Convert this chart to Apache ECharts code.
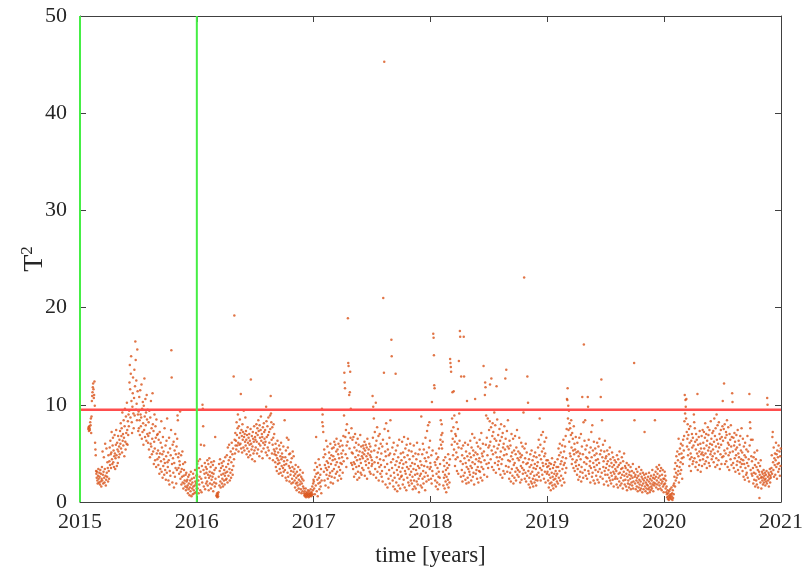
<!DOCTYPE html>
<html>
<head>
<meta charset="utf-8">
<script src="https://cdn.jsdelivr.net/npm/echarts/dist/echarts.min.js"></script>
<style>
  html, body { margin: 0; padding: 0; background: #ffffff; }
  #chart { width: 803px; height: 574px; }
</style>
</head>
<body>
<div id="chart"></div>
<script>
// Daily T^2 statistic, one row of samples per month (30 per month, 360 per year).
const years = [2015, 2016, 2017, 2018, 2019, 2020];

const t2015 = [
  null,null,null,null,null,null,null,null,null,null,null,null,null,null,null,null,null,null,null,null,null,null,null,null,null,7.5,7.7,7.3,7.8,7.6,
  7.4,8.2,7.9,8.6,7.1,8.8,10.4,10.9,11.3,11.8,12.2,11.6,10.7,11.0,12.4,9.9,6.1,5.4,4.8,3.2,2.9,2.5,3.1,2.2,1.9,2.7,3.4,2.4,2.0,3.0,
  2.6,1.8,3.3,2.1,2.9,1.6,2.4,3.6,2.2,5.2,2.8,1.9,3.1,4.6,2.5,2.0,3.4,6.0,2.7,1.7,2.3,5.5,3.0,2.6,4.1,3.5,2.1,4.8,3.2,2.4,
  4.2,5.6,3.8,6.3,4.9,3.5,5.1,7.2,4.4,3.9,5.8,6.6,4.1,5.3,3.6,4.7,6.9,5.0,3.4,4.5,5.9,7.4,4.8,3.7,6.1,5.4,4.0,6.8,5.2,4.6,
  5.7,6.4,4.9,7.3,6.0,8.1,5.5,6.8,7.6,5.1,9.2,6.3,7.0,5.8,8.4,6.6,4.7,7.8,9.6,6.2,5.4,8.8,7.1,6.0,10.2,7.4,5.9,8.3,6.9,9.0,
  7.8,9.4,12.3,14.1,11.6,8.7,13.2,15.0,10.4,8.2,7.1,9.8,11.2,12.8,9.1,7.6,10.7,13.6,8.9,11.9,16.5,14.6,9.5,12.5,10.1,8.4,15.7,11.4,9.0,7.3,
  9.3,7.6,10.8,8.4,6.9,11.5,9.0,7.8,8.7,12.1,6.5,9.6,7.2,10.3,8.1,5.9,9.9,7.4,12.7,8.8,6.7,10.6,7.9,9.2,6.3,11.0,8.5,7.0,9.5,6.1,
  6.8,8.2,5.4,9.4,7.1,4.6,8.7,6.0,10.4,5.7,7.6,4.9,6.5,11.2,8.0,5.2,7.3,3.9,6.2,9.0,5.5,4.3,7.8,6.6,3.6,8.5,5.0,6.9,4.4,7.0,
  5.3,3.8,6.4,4.6,2.9,7.2,5.0,3.4,6.1,4.2,8.3,3.1,5.6,4.9,2.5,6.7,3.7,5.2,4.4,2.8,7.6,4.0,3.3,5.8,2.3,4.7,6.3,3.0,8.6,4.1,
  3.6,5.1,2.2,4.3,6.6,1.8,3.2,5.5,2.7,4.8,7.4,15.6,12.8,3.9,2.0,5.9,4.5,3.0,6.2,1.5,4.0,5.3,2.6,7.0,3.5,4.9,1.9,5.7,3.3,6.5,
  8.9,8.4,4.6,3.5,5.0,2.9,4.2,3.8,9.3,2.4,3.1,4.8,1.8,3.4,2.6,5.2,2.0,3.9,1.4,2.7,3.3,1.9,2.2,4.1,1.6,2.8,1.2,3.0,2.1,1.5,
  2.3,1.7,0.9,2.6,1.3,1.9,2.8,0.7,1.5,2.2,1.1,3.1,1.8,0.6,2.4,1.4,2.0,0.8,2.9,1.6,1.2,2.5,0.9,1.7,3.3,2.1,1.0,1.9,2.7,1.4
];

const t2016 = [
  2.8,3.9,1.4,4.2,2.2,0.9,3.5,1.8,2.6,4.4,1.2,3.1,5.9,2.4,1.0,3.7,2.0,10.0,9.6,7.8,3.3,1.6,5.8,2.9,4.0,1.3,2.5,3.6,1.9,3.0,
  3.4,2.1,4.3,1.7,2.8,3.9,1.2,2.5,4.5,3.1,1.9,2.7,3.6,1.4,4.1,2.3,3.0,1.8,2.6,3.8,1.1,2.9,4.2,2.0,3.3,1.6,6.7,2.4,3.5,1.9,
  0.7,0.6,0.9,0.5,0.8,0.6,1.0,2.6,3.9,1.7,3.2,4.4,2.1,1.5,3.5,2.8,4.0,1.9,2.4,3.7,1.6,2.9,4.2,2.2,3.3,1.8,2.7,4.6,3.0,2.3,
  3.6,2.4,4.8,3.1,2.0,5.6,3.9,2.7,4.3,5.9,3.4,2.2,4.6,3.0,5.2,2.5,4.1,6.1,3.3,4.9,2.8,5.5,3.7,12.9,4.4,19.2,6.4,5.0,7.1,5.8,
  6.3,5.4,8.2,6.9,5.8,7.6,9.0,6.1,5.2,7.8,6.6,5.9,8.5,7.1,6.0,11.1,5.5,7.4,6.8,5.1,8.0,6.4,7.2,5.6,9.4,6.7,5.3,7.0,6.2,8.7,
  5.8,7.3,6.4,4.9,6.9,5.5,7.7,6.1,4.6,6.6,5.2,7.0,5.9,6.3,4.8,7.5,12.6,6.0,5.4,6.8,4.4,5.7,7.2,6.5,5.0,6.2,7.8,5.3,4.2,6.7,
  6.4,5.6,7.1,8.0,6.2,5.0,7.6,6.9,5.4,8.4,7.3,6.0,4.7,7.9,6.6,5.8,7.4,8.8,6.3,5.2,7.0,6.7,4.5,7.7,6.1,5.5,8.1,7.2,6.5,5.9,
  7.4,6.2,5.1,9.8,8.3,6.7,4.8,7.8,5.6,6.9,8.7,5.3,7.2,6.1,4.5,8.9,7.5,10.9,9.1,8.2,6.4,5.0,7.7,5.9,4.3,6.6,8.0,5.4,7.0,4.9,
  5.2,4.1,6.0,3.6,4.8,5.5,3.2,4.5,6.3,3.9,5.1,4.3,2.9,5.8,4.0,3.4,5.4,4.7,3.0,6.1,4.4,3.7,5.0,2.7,4.6,3.5,5.7,3.1,4.2,3.8,
  8.4,3.3,4.6,2.5,5.3,3.9,2.2,6.6,4.3,3.0,5.6,2.6,6.4,3.7,4.9,2.1,3.5,5.0,2.8,4.1,3.2,1.9,4.5,2.4,3.6,5.2,2.0,3.1,4.7,2.7,
  3.4,2.2,1.5,2.9,3.8,1.9,2.5,1.2,3.1,2.0,1.7,2.7,3.6,1.4,2.3,1.0,2.8,1.8,3.3,2.1,1.3,2.6,0.9,1.9,2.4,1.1,3.0,1.6,2.2,1.4,
  0.9,0.7,1.1,0.6,0.8,1.4,0.5,0.9,0.7,1.0,0.6,0.8,1.2,0.7,0.5,0.9,1.1,0.6,0.8,0.7,1.3,0.9,0.6,1.0,0.7,1.6,0.8,1.2,1.9,2.3
];

const t2017 = [
  2.1,1.4,3.3,0.8,2.6,4.0,1.7,6.7,2.9,1.1,3.6,2.3,0.6,3.0,1.9,4.4,2.5,1.3,3.8,2.0,2.8,1.6,3.4,0.9,2.2,9.6,8.2,9.0,7.8,7.2,
  4.6,3.1,5.4,2.2,3.8,4.9,1.7,3.5,6.3,2.8,4.2,3.3,5.7,2.4,4.0,1.5,3.6,5.1,2.7,4.5,3.0,6.0,2.0,3.9,4.8,2.6,5.5,3.2,4.3,1.9,
  4.7,5.6,3.4,6.2,2.5,4.4,5.9,3.8,2.9,5.2,6.5,4.1,3.1,5.4,2.2,4.9,6.0,3.6,4.5,2.7,5.7,3.3,4.0,6.3,2.4,5.0,3.9,4.6,5.8,3.0,
  5.3,6.8,4.2,8.9,13.3,12.3,11.7,6.7,4.9,7.4,3.6,5.8,8.0,4.5,6.2,18.9,14.3,14.0,7.1,11.0,5.5,11.3,13.4,6.6,9.6,4.0,7.6,5.1,3.8,6.4,
  5.0,3.4,6.7,4.1,2.6,5.6,3.9,7.0,4.6,2.9,6.1,3.6,5.3,4.3,2.3,6.5,3.1,4.8,5.9,3.7,2.5,5.2,4.4,6.9,3.0,4.0,5.7,2.8,4.7,3.5,
  5.1,4.5,5.8,3.3,5.5,4.9,6.2,2.7,5.3,4.2,5.9,3.8,4.7,5.6,2.4,6.5,4.4,5.0,3.5,5.4,4.0,6.0,3.1,4.8,5.7,2.9,4.6,5.2,3.7,4.3,
  3.9,10.9,6.6,9.8,2.8,8.6,5.3,4.1,7.2,3.4,5.8,10.2,2.5,6.3,4.6,7.7,3.1,5.1,4.0,6.8,2.2,5.5,3.6,7.0,4.4,2.9,6.0,3.8,5.0,2.6,
  3.2,5.7,2.1,6.4,21.0,4.3,13.3,45.3,7.5,3.6,5.2,1.8,4.7,8.1,2.9,6.0,3.9,1.5,5.4,7.3,2.4,4.8,3.3,6.6,1.9,5.0,8.4,2.7,4.1,16.7,
  15.0,3.5,5.6,2.2,4.4,1.6,6.1,3.0,4.9,2.5,1.3,3.8,13.2,5.3,2.0,4.2,3.3,1.1,5.8,2.8,4.6,1.7,3.6,6.4,2.4,4.0,1.4,3.1,5.0,2.6,
  4.3,2.7,6.2,3.5,1.8,5.1,3.9,2.3,6.7,4.6,1.5,3.2,5.5,2.9,4.1,1.2,5.9,3.6,2.5,4.8,6.5,2.0,3.4,5.3,1.7,4.4,2.8,6.0,3.7,2.2,
  3.1,5.2,1.9,4.0,2.6,1.3,4.7,3.4,5.8,2.2,1.6,3.9,2.8,5.0,1.4,3.3,4.4,2.1,6.1,2.9,1.8,3.7,4.9,2.4,1.0,3.5,5.4,2.7,4.2,1.7,
  2.9,8.8,3.8,1.5,4.9,2.4,6.0,3.2,1.9,5.4,3.7,2.6,4.5,1.2,6.6,3.0,4.2,2.1,5.1,7.3,3.6,2.7,7.9,4.6,2.3,5.6,8.2,3.4,6.3,4.0
];

const t2018 = [
  3.6,2.4,4.8,1.9,10.3,3.2,5.3,2.7,17.3,16.9,15.1,12.0,11.7,4.1,2.2,3.8,1.6,5.0,2.9,4.4,2.0,3.5,1.3,4.6,2.6,3.1,5.5,1.8,2.5,3.9,
  6.4,8.4,5.9,6.9,8.0,5.5,7.1,6.2,3.1,1.7,4.3,2.5,3.7,1.4,2.8,4.6,2.1,3.3,1.0,2.6,4.0,1.8,3.5,2.3,4.9,1.5,2.9,3.8,2.0,4.4,
  14.7,14.3,13.9,13.4,7.3,5.9,8.6,11.3,6.5,4.8,7.7,11.4,5.4,8.9,6.2,3.7,7.0,4.4,6.8,5.1,8.2,3.2,6.0,4.6,7.5,2.9,5.6,14.5,9.1,6.3,
  17.6,17.0,4.2,2.6,12.9,5.5,3.3,4.8,2.1,3.9,5.8,2.7,17.0,12.9,4.5,3.0,6.1,2.3,4.0,5.2,1.9,3.6,10.4,4.7,2.5,5.9,3.4,2.0,4.3,3.1,
  5.0,2.8,6.3,3.7,4.6,2.2,5.6,3.5,7.0,4.1,2.6,5.3,3.0,4.8,1.8,6.6,3.9,10.6,5.1,2.9,4.4,3.3,6.1,2.4,4.9,3.6,5.7,2.0,4.2,3.2,
  4.5,6.4,3.1,5.5,2.5,4.1,7.1,3.6,5.0,2.2,4.7,6.0,3.4,14.0,5.2,2.8,4.3,11.0,12.3,11.8,5.9,8.9,3.9,6.6,2.6,4.8,8.6,3.5,5.6,4.0,
  7.4,5.8,8.3,12.1,6.2,4.4,7.7,12.7,5.3,3.6,6.8,8.1,4.9,7.2,3.3,5.7,9.2,6.5,4.0,7.9,5.1,3.0,6.3,11.9,4.6,8.5,5.5,3.8,6.9,4.2,
  5.9,3.4,7.5,4.6,6.3,2.8,5.2,8.0,3.9,6.7,4.4,2.5,7.1,5.6,3.2,6.0,4.8,7.8,2.9,5.4,12.7,6.5,3.7,13.6,4.9,7.3,3.1,5.7,8.4,4.3,
  3.6,5.5,2.4,6.3,4.2,3.0,5.8,2.1,4.7,7.0,3.4,5.1,2.7,4.4,6.5,1.9,3.8,5.3,2.5,4.0,6.8,3.1,4.9,2.2,5.6,3.5,7.4,2.8,4.5,3.3,
  5.2,2.6,4.3,6.6,3.1,5.0,2.0,4.6,3.7,6.1,2.3,4.8,3.5,5.7,2.9,4.1,9.2,3.3,23.1,5.5,2.4,4.5,3.0,6.0,2.1,3.9,5.1,2.7,12.9,4.0,
  10.2,3.2,1.8,4.4,2.5,3.6,1.5,4.9,2.9,2.1,3.8,5.3,1.9,3.1,4.3,2.4,1.6,3.5,4.7,2.7,2.0,3.9,5.1,2.3,3.4,1.7,4.6,2.8,3.7,2.2,
  4.1,5.6,3.0,6.4,2.6,4.8,8.6,3.5,5.9,2.2,4.4,6.9,3.3,5.2,2.8,4.0,7.2,3.7,5.5,2.4,4.7,6.2,3.1,5.0,2.0,3.9,6.6,4.3,2.9,3.6
];

const t2019 = [
  3.1,4.3,2.2,3.7,1.5,2.8,4.0,1.9,3.4,2.5,1.2,3.9,2.0,3.0,4.5,1.7,2.6,3.5,1.4,2.3,3.8,2.9,1.8,4.1,2.4,3.2,1.6,2.7,3.6,2.1,
  2.9,4.4,1.9,3.6,5.5,2.5,4.8,3.2,6.0,2.2,3.9,5.1,2.7,4.2,1.7,5.8,3.4,4.6,2.4,6.4,3.8,5.2,2.0,4.0,5.7,3.0,6.8,4.5,3.5,7.5,
  10.6,10.5,11.7,8.6,9.9,7.4,9.4,6.2,8.1,5.0,7.6,4.7,6.9,8.4,5.6,3.9,7.1,4.4,6.5,5.3,3.5,7.8,4.9,6.0,3.2,5.4,4.1,6.7,3.7,5.1,
  4.3,2.8,6.1,3.4,5.2,2.3,4.7,3.8,6.6,2.6,5.0,3.1,4.4,7.0,2.1,3.6,5.7,10.8,3.0,4.9,2.5,8.2,16.2,4.1,6.3,3.3,8.4,5.4,2.7,4.6,
  3.9,5.8,2.4,4.5,10.8,9.8,3.2,6.4,2.9,5.1,3.7,4.2,2.0,5.6,3.5,7.2,4.6,2.6,7.9,3.0,5.3,4.0,2.2,6.2,3.6,4.8,1.9,5.5,3.3,4.3,
  2.7,5.0,3.8,6.1,2.3,4.4,3.1,5.7,2.0,4.0,6.5,3.4,4.9,2.6,10.8,5.3,12.6,3.0,8.4,4.6,2.4,5.9,3.6,4.2,1.8,5.2,3.2,6.3,2.8,4.5,
  3.5,4.7,2.1,3.9,5.3,2.8,4.2,1.7,3.3,4.9,2.5,3.7,5.6,2.2,4.4,3.0,1.9,4.0,2.7,5.1,3.6,2.3,4.6,3.1,1.6,3.8,2.9,4.3,2.4,3.4,
  2.6,4.1,3.2,1.8,4.8,2.4,3.6,1.5,4.4,2.9,3.8,2.1,5.2,3.0,1.7,4.0,2.5,3.4,1.9,4.6,2.8,3.5,1.4,4.2,2.2,3.1,5.0,2.7,1.8,3.7,
  2.3,3.5,1.6,2.9,4.0,1.2,2.6,3.3,1.9,2.2,3.8,1.5,2.8,3.1,1.8,2.4,3.6,1.3,2.7,2.0,3.2,1.7,2.5,3.9,1.4,2.1,3.0,14.3,8.4,2.6,
  1.9,2.8,1.3,3.4,2.2,1.6,2.5,3.1,1.1,2.0,2.7,1.5,3.6,2.3,1.8,1.2,2.9,2.1,1.4,3.3,2.6,1.7,1.0,2.4,3.0,1.9,1.3,2.2,2.8,7.2,
  1.6,2.5,1.1,2.0,2.9,1.4,1.8,2.3,0.9,1.7,2.6,1.3,2.1,3.0,1.5,1.0,2.4,1.9,1.2,2.7,1.6,2.2,1.4,3.3,1.8,2.5,1.1,2.0,2.8,1.7,
  2.4,8.4,1.9,3.1,2.6,1.5,3.6,2.2,1.8,2.9,3.4,1.3,2.5,2.0,3.8,1.7,2.7,3.2,1.4,2.3,3.5,1.9,1.2,2.8,2.1,3.3,1.6,2.4,1.0,1.8
];

const t2020 = [
  2.4,3.1,1.9,2.7,1.4,2.2,1.0,1.6,0.8,0.5,1.2,0.3,0.9,0.6,0.2,1.1,0.4,0.7,1.3,0.5,0.8,0.3,1.5,0.6,0.9,0.2,1.2,0.4,1.7,0.8,
  1.9,2.6,3.4,1.6,4.0,2.2,3.0,4.7,2.5,3.7,5.2,2.8,4.3,3.2,6.5,2.0,4.9,3.6,5.5,2.9,4.1,6.0,3.3,5.0,4.5,2.4,5.8,3.9,6.4,4.6,
  5.3,6.8,8.3,11.0,9.1,10.5,9.8,8.6,10.6,7.2,5.7,6.5,8.0,4.8,6.9,5.4,7.5,3.7,6.1,4.4,7.8,5.0,3.2,6.3,4.6,7.0,5.6,3.9,6.6,4.2,
  5.8,9.0,8.2,4.5,7.6,6.2,3.6,5.4,7.0,4.1,6.4,5.0,11.1,3.3,5.9,4.7,6.7,3.8,5.2,7.3,4.3,6.0,3.1,5.5,4.9,6.8,3.7,5.1,7.4,4.4,
  6.1,4.8,7.2,5.5,3.9,6.6,8.1,5.0,4.2,7.0,5.8,3.5,6.3,4.6,7.7,5.3,6.9,4.0,5.6,7.4,3.7,6.0,4.9,8.3,5.2,6.5,4.4,5.9,7.1,4.7,
  5.4,7.3,4.1,6.2,8.6,5.0,6.8,3.6,7.6,5.7,4.5,9.0,6.4,3.8,7.9,5.2,6.0,4.3,8.2,5.6,7.0,3.4,6.5,4.9,7.4,5.9,3.9,6.7,4.6,7.8,
  10.4,6.3,4.7,7.5,12.2,5.3,8.0,3.9,6.6,5.0,7.2,4.2,6.9,8.4,5.5,3.6,6.1,7.7,4.8,5.9,3.3,7.0,5.1,6.4,4.4,7.9,5.7,3.8,6.7,11.2,
  10.3,5.2,4.0,6.6,3.5,5.8,7.1,4.5,6.2,3.1,5.4,4.8,6.9,3.8,5.6,4.2,7.4,3.3,5.0,6.3,4.6,2.9,5.9,4.1,6.8,3.6,5.3,4.4,7.6,3.9,
  5.1,3.2,6.5,4.3,2.6,5.7,3.9,4.8,2.3,6.1,3.5,4.6,2.8,5.4,3.0,4.0,6.8,2.5,5.2,3.7,4.4,2.1,11.1,5.8,8.2,7.6,3.3,6.4,4.7,2.9,
  4.2,2.7,6.4,3.5,1.9,4.6,3.0,2.3,5.1,3.8,1.6,2.9,4.4,2.2,3.6,1.8,5.3,2.6,3.3,1.5,4.0,2.4,3.1,0.4,2.8,3.7,2.0,4.3,2.5,1.4,
  2.6,3.1,2.2,2.9,1.8,2.5,3.3,2.0,2.7,2.3,3.0,1.7,2.4,2.8,2.1,3.2,1.9,10.7,10.0,2.6,2.2,3.0,1.6,2.8,2.4,3.4,2.0,2.7,2.5,3.1,
  3.5,4.8,2.9,6.7,7.2,4.1,3.3,5.6,2.6,4.5,3.8,5.0,2.8,4.3,6.1,3.6,4.9,2.4,5.3,3.9,4.6,3.1,5.8,4.0,3.4,5.2,2.7,4.7,3.7,5.5
];

const valuesByYear = [t2015, t2016, t2017, t2018, t2019, t2020];

// Control limit and the bounds of the reference (training) period.
const controlLimit = 9.5;
const referenceStart = 2015;
const referenceEnd = 2016;

const xMin = 2015, xMax = 2021;
const yMin = 0, yMax = 50;

// Place each sample at the middle of its slot within the year.
const points = [];
years.forEach((yr, k) => {
  const arr = valuesByYear[k];
  arr.forEach((v, i) => {
    if (v !== null) points.push([yr + (i + 0.5) / arr.length, v]);
  });
});

const FONT = "'Liberation Serif', 'Times New Roman', serif";
const INK = '#262626';
const AXIS = '#404040';

const chart = echarts.init(document.getElementById('chart'), null, { renderer: 'canvas' });

const baseAxisLine = { show: true, onZero: false, lineStyle: { color: AXIS, width: 1 } };
const baseTick = { show: true, inside: true, length: 6, lineStyle: { color: AXIS, width: 1 } };

chart.setOption({
  animation: false,
  backgroundColor: '#ffffff',
  grid: { left: 80, right: 22, top: 16, bottom: 72, containLabel: false, outerBoundsMode: 'none' },
  xAxis: [
    {
      type: 'value', min: xMin, max: xMax, interval: 1,
      axisLine: baseAxisLine, axisTick: baseTick, splitLine: { show: false },
      axisLabel: { fontFamily: FONT, fontSize: 22, color: INK, margin: 9, formatter: v => String(v) },
      name: 'time [years]', nameLocation: 'middle', nameGap: 42, nameMoveOverlap: false,
      nameTextStyle: { fontFamily: FONT, fontSize: 23, color: INK }
    },
    {
      type: 'value', position: 'top', min: xMin, max: xMax, interval: 1,
      axisLine: baseAxisLine, axisTick: baseTick, splitLine: { show: false },
      axisLabel: { show: false }
    }
  ],
  yAxis: [
    {
      type: 'value', min: yMin, max: yMax, interval: 10,
      axisLine: baseAxisLine, axisTick: baseTick, splitLine: { show: false },
      axisLabel: { fontFamily: FONT, fontSize: 22, color: INK, margin: 13 },
      name: '{t|T}{s|2}', nameLocation: 'middle', nameGap: 30, nameRotate: 90, nameMoveOverlap: false,
      nameTextStyle: {
        fontFamily: FONT, fontSize: 28, color: INK,
        rich: {
          t: { fontFamily: FONT, fontSize: 28, color: INK },
          s: { fontFamily: FONT, fontSize: 17, color: INK, padding: [0, 0, 14, 0] }
        }
      }
    },
    {
      type: 'value', position: 'right', min: yMin, max: yMax, interval: 10,
      axisLine: baseAxisLine, axisTick: baseTick, splitLine: { show: false },
      axisLabel: { show: false }
    }
  ],
  series: [
    {
      name: 'T2', type: 'scatter', data: points,
      symbol: 'circle', symbolSize: 2.5,
      itemStyle: { color: '#d95319' },
      z: 2, silent: true
    },
    {
      name: 'limit', type: 'line', data: [[xMin, controlLimit], [xMax, controlLimit]],
      symbol: 'none', clip: false, silent: true,
      lineStyle: { color: '#ff4d4d', width: 2.5 }, z: 3
    },
    {
      name: 'start', type: 'line', data: [[referenceStart, yMin], [referenceStart, yMax]],
      symbol: 'none', clip: false, silent: true,
      lineStyle: { color: '#45ee45', width: 2 }, z: 4
    },
    {
      name: 'end', type: 'line', data: [[referenceEnd, yMin], [referenceEnd, yMax]],
      symbol: 'none', clip: false, silent: true,
      lineStyle: { color: '#45ee45', width: 2 }, z: 4
    }
  ]
});
</script>
</body>
</html>
